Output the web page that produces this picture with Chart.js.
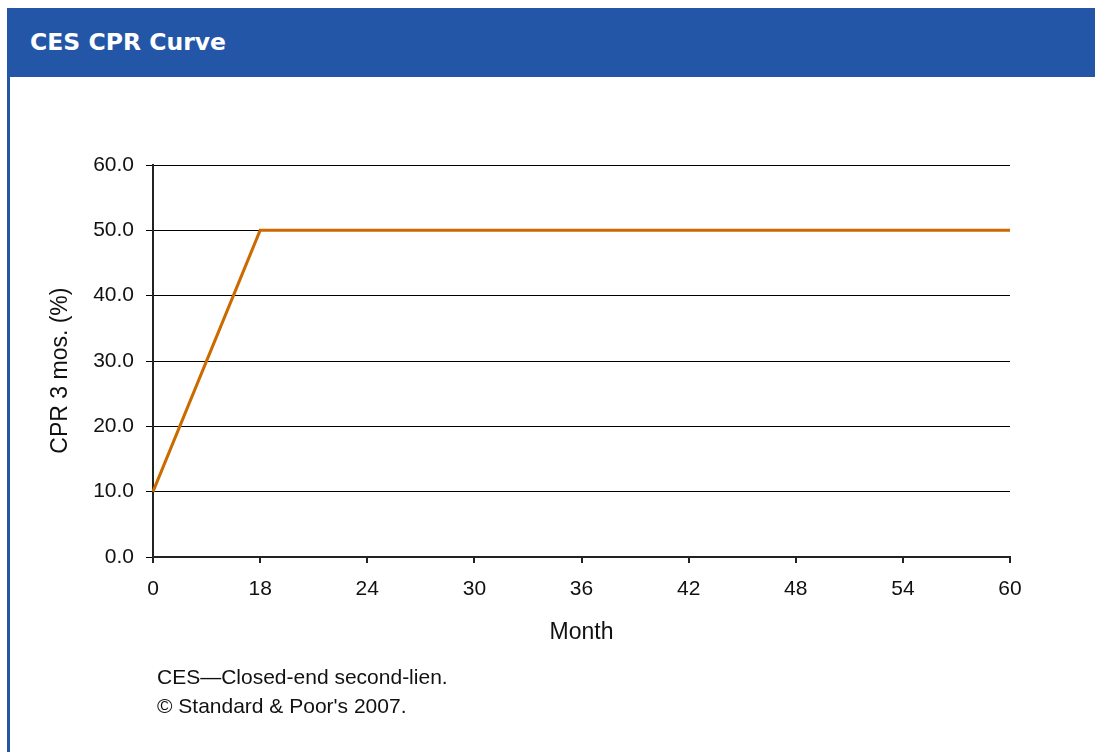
<!DOCTYPE html>
<html>
<head>
<meta charset="utf-8">
<script src="https://cdn.jsdelivr.net/npm/chart.js@4.4.1/dist/chart.umd.min.js"></script>
<style>
  html, body { margin: 0; padding: 0; background: #fff; }
  body { width: 1095px; height: 752px; position: relative; overflow: hidden; }
  #panel {
    position: absolute; left: 7px; top: 8px; right: 0; bottom: 0;
    border-left: 3px solid #2555a7;
  }
  #header {
    position: absolute; left: 7px; top: 8px; right: 0; height: 69px;
    background: #2456a8;
  }
  #header span {
    position: absolute; left: 23px; top: 0;
    color: #fff; font: bold 23.5px "DejaVu Sans", Verdana, sans-serif;
    line-height: 69px;
  }
  #wrap { position: absolute; left: 0; top: 0; width: 1095px; height: 752px; }
  #note {
    position: absolute; left: 157px; top: 662px;
    font: 21px "Liberation Sans", Arial, sans-serif; color: #111;
    line-height: 29px;
  }
</style>
</head>
<body>
<div id="panel"></div>
<div id="header"><span>CES CPR Curve</span></div>
<div id="wrap"><canvas id="c"></canvas></div>
<div id="note">CES—Closed-end second-lien.<br>© Standard &amp; Poor's 2007.</div>
<script>
// Month labels along the horizontal axis (evenly spaced categories)
const months = ['0', '18', '24', '30', '36', '42', '48', '54', '60'];
// CPR over three months, in percent
const cpr = [10, 50, 50, 50, 50, 50, 50, 50, 50];
// Vertical axis range and step
const yMin = 0, yMax = 60, yStep = 10;

const tickFont = { family: '"Liberation Sans", Arial, sans-serif', size: 21 };
const titleFont = { family: '"Liberation Sans", Arial, sans-serif', size: 23 };

new Chart(document.getElementById('c'), {
  type: 'line',
  data: {
    labels: months,
    datasets: [{
      data: cpr,
      borderColor: '#cc6a00',
      borderWidth: 3,
      pointRadius: 0,
      tension: 0,
      fill: false
    }]
  },
  options: {
    responsive: true,
    maintainAspectRatio: false,
    animation: false,
    layout: { padding: { top: 165, left: 43, right: 85, bottom: 105 } },
    plugins: { legend: { display: false }, tooltip: { enabled: false } },
    scales: {
      x: {
        type: 'category',
        offset: false,
        afterFit: s => { s.height = 90; },
        grid: { drawOnChartArea: false, drawTicks: true, tickLength: 6, color: '#222', lineWidth: 2 },
        border: { display: true, color: '#222', width: 2 },
        ticks: { color: '#111', font: tickFont, padding: 14, maxRotation: 0, autoSkip: false },
        title: { display: true, text: 'Month', color: '#111', font: titleFont, padding: { top: 4, bottom: 1 } }
      },
      y: {
        min: yMin, max: yMax,
        afterFit: s => { s.width = 110; },
        grid: { color: '#000', lineWidth: 1, drawTicks: true, tickLength: 7 },
        border: { display: true, color: '#222', width: 2 },
        ticks: {
          stepSize: yStep, color: '#111', font: tickFont, padding: 12,
          callback: v => v.toFixed(1)
        },
        // trailing spaces nudge the rotated title slightly lower
        title: { display: true, text: 'CPR 3 mos. (%)\u00a0\u00a0\u00a0', color: '#111', font: titleFont, padding: { top: 4, bottom: 4 } }
      }
    }
  }
});
</script>
</body>
</html>
